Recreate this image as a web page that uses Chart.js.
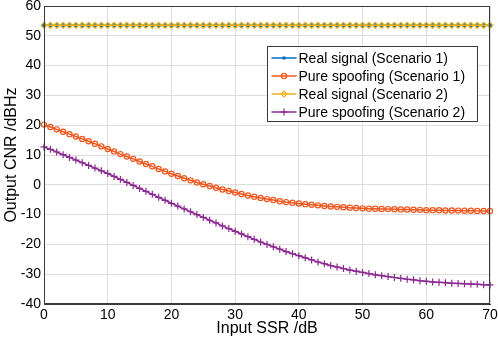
<!DOCTYPE html>
<html>
<head>
<meta charset="utf-8">
<script src="https://cdn.jsdelivr.net/npm/chart.js@4.4.1/dist/chart.umd.min.js"></script>
<style>
  html, body { margin: 0; padding: 0; background: #fff; }
  #wrap { position: relative; width: 498px; height: 341px; }
</style>
</head>
<body>
<div id="wrap"><canvas id="chart"></canvas></div>
<script>
// Input SSR, dB (one point per dB)
const ssr = [
  0, 1, 2, 3, 4, 5, 6, 7, 8, 9, 10, 11, 12, 13, 14, 15, 16, 17, 18, 19, 20,
  21, 22, 23, 24, 25, 26, 27, 28, 29, 30, 31, 32, 33, 34, 35, 36, 37, 38, 39, 40,
  41, 42, 43, 44, 45, 46, 47, 48, 49, 50, 51, 52, 53, 54, 55, 56, 57, 58, 59, 60,
  61, 62, 63, 64, 65, 66, 67, 68, 69, 70
];

// Output CNR, dBHz
const realSignal1 = [
  53.5, 53.5, 53.5, 53.5, 53.5, 53.5, 53.5, 53.5, 53.5, 53.5, 53.5, 53.5, 53.5, 53.5, 53.5, 53.5, 53.5, 53.5, 53.5, 53.5, 53.5,
  53.5, 53.5, 53.5, 53.5, 53.5, 53.5, 53.5, 53.5, 53.5, 53.5, 53.5, 53.5, 53.5, 53.5, 53.5, 53.5, 53.5, 53.5, 53.5, 53.5,
  53.5, 53.5, 53.5, 53.5, 53.5, 53.5, 53.5, 53.5, 53.5, 53.5, 53.5, 53.5, 53.5, 53.5, 53.5, 53.5, 53.5, 53.5, 53.5, 53.5,
  53.5, 53.5, 53.5, 53.5, 53.5, 53.5, 53.5, 53.5, 53.5, 53.5
];
const spoofing1 = [
  20.2, 19.4, 18.6, 17.8, 17.0, 16.2, 15.4, 14.6, 13.8, 12.9, 12.0,
  11.2, 10.3, 9.5, 8.7, 7.8, 7.0, 6.2, 5.3, 4.5, 3.7,
  2.95, 2.2, 1.5, 0.8, 0.2, -0.4, -1.0, -1.6, -2.1, -2.6,
  -3.1, -3.6, -4.0, -4.4, -4.8, -5.1, -5.5, -5.8, -6.0, -6.3,
  -6.5, -6.7, -6.9, -7.1, -7.3, -7.4, -7.55, -7.7, -7.8, -7.9,
  -8.0, -8.05, -8.1, -8.15, -8.2, -8.25, -8.3, -8.35, -8.4, -8.5,
  -8.5, -8.55, -8.6, -8.6, -8.65, -8.7, -8.7, -8.75, -8.8, -8.8
];
const realSignal2 = [
  53.5, 53.5, 53.5, 53.5, 53.5, 53.5, 53.5, 53.5, 53.5, 53.5, 53.5, 53.5, 53.5, 53.5, 53.5, 53.5, 53.5, 53.5, 53.5, 53.5, 53.5,
  53.5, 53.5, 53.5, 53.5, 53.5, 53.5, 53.5, 53.5, 53.5, 53.5, 53.5, 53.5, 53.5, 53.5, 53.5, 53.5, 53.5, 53.5, 53.5, 53.5,
  53.5, 53.5, 53.5, 53.5, 53.5, 53.5, 53.5, 53.5, 53.5, 53.5, 53.5, 53.5, 53.5, 53.5, 53.5, 53.5, 53.5, 53.5, 53.5, 53.5,
  53.5, 53.5, 53.5, 53.5, 53.5, 53.5, 53.5, 53.5, 53.5, 53.5
];
const spoofing2 = [
  12.7, 11.9, 11.0, 10.1, 9.2, 8.3, 7.4, 6.5, 5.6, 4.7, 3.8,
  2.8, 1.8, 0.8, -0.2, -1.2, -2.2, -3.2, -4.2, -5.2, -6.2,
  -7.15, -8.1, -9.05, -10.0, -10.95, -11.9, -12.8, -13.8, -14.7, -15.6,
  -16.5, -17.4, -18.3, -19.2, -20.0, -20.8, -21.6, -22.4, -23.1, -23.8,
  -24.5, -25.2, -25.9, -26.5, -27.1, -27.6, -28.1, -28.6, -29.0, -29.4,
  -29.8, -30.2, -30.5, -30.8, -31.1, -31.4, -31.7, -31.9, -32.2, -32.4,
  -32.6, -32.7, -32.85, -33.0, -33.1, -33.2, -33.3, -33.4, -33.5, -33.6
];

const seriesLabels = [
  'Real signal (Scenario 1)',
  'Pure spoofing (Scenario 1)',
  'Real signal (Scenario 2)',
  'Pure spoofing (Scenario 2)'
];

const xTicks = [0, 10, 20, 30, 40, 50, 60, 70];
const yTicks = [-40, -30, -20, -10, 0, 10, 20, 30, 40, 50, 60];

const FONT = 'Arial, "Liberation Sans", Helvetica, sans-serif';

function toPoints(ys) {
  return ys.map((y, i) => ({ x: ssr[i], y: y }));
}

// Draw a small marker like matlab does (for the legend)
function drawMarker(ctx, style, color, x, y) {
  ctx.save();
  ctx.strokeStyle = color;
  ctx.fillStyle = color;
  ctx.lineWidth = 1.2;
  ctx.beginPath();
  if (style === 'open') {
    ctx.arc(x, y, 2.6, 0, Math.PI * 2);
    ctx.stroke();
  } else if (style === 'cross') {
    ctx.moveTo(x - 3.5, y); ctx.lineTo(x + 3.5, y);
    ctx.moveTo(x, y - 3.5); ctx.lineTo(x, y + 3.5);
    ctx.stroke();
  } else if (style === 'rectRot') {
    ctx.moveTo(x, y - 3); ctx.lineTo(x + 3, y); ctx.lineTo(x, y + 3); ctx.lineTo(x - 3, y);
    ctx.closePath();
    ctx.stroke();
  } else {
    ctx.arc(x, y, 1.8, 0, Math.PI * 2);
    ctx.fill();
  }
  ctx.restore();
}

// box around plot + legend inside the axes
const boxLegend = {
  id: 'boxLegend',
  afterDraw(chart) {
    const ctx = chart.ctx;
    const a = chart.chartArea;
    ctx.save();
    ctx.strokeStyle = '#3a3a3a';
    ctx.lineWidth = 1;
    ctx.strokeRect(a.left + 0.5, a.top + 0.5, a.right - a.left - 1, a.bottom - a.top - 1);

    const lx = 267.5, ly = 46.5, lw = 210, lh = 75;
    ctx.fillStyle = '#fff';
    ctx.fillRect(lx, ly, lw, lh);
    ctx.strokeStyle = '#3a3a3a';
    ctx.strokeRect(lx, ly, lw, lh);

    ctx.font = '14px ' + FONT;
    ctx.textBaseline = 'middle';
    ctx.textAlign = 'left';
    chart.data.datasets.forEach((ds, i) => {
      const y = ly + 11.5 + i * 18;
      ctx.strokeStyle = ds.borderColor;
      ctx.lineWidth = 1.5;
      ctx.beginPath();
      ctx.moveTo(lx + 4, y);
      ctx.lineTo(lx + 29, y);
      ctx.stroke();
      drawMarker(ctx, ds.legendMarker, ds.borderColor, lx + 16.5, y);
      ctx.fillStyle = '#000';
      ctx.fillText(ds.label, lx + 31, y + 1);
    });
    ctx.restore();
  }
};

function initChart() {
  const ctx = document.getElementById('chart').getContext('2d');

  const datasets = [{
    label: seriesLabels[0],
    data: toPoints(realSignal1),
    borderColor: '#0072BD',
    backgroundColor: '#0072BD',
    pointStyle: 'circle',
    legendMarker: 'dot',
    pointRadius: 1.8,
    pointBackgroundColor: '#0072BD',
    order: 4
  }, {
    label: seriesLabels[1],
    data: toPoints(spoofing1),
    borderColor: '#F0561D',
    backgroundColor: '#F0561D',
    pointStyle: 'circle',
    legendMarker: 'open',
    pointRadius: 2.6,
    pointBackgroundColor: 'rgba(0,0,0,0)',
    order: 3
  }, {
    label: seriesLabels[2],
    data: toPoints(realSignal2),
    borderColor: '#EDB120',
    backgroundColor: '#EDB120',
    pointStyle: 'rectRot',
    legendMarker: 'rectRot',
    pointRadius: 3,
    pointBackgroundColor: 'rgba(0,0,0,0)',
    order: 2
  }, {
    label: seriesLabels[3],
    data: toPoints(spoofing2),
    borderColor: '#8B2A90',
    backgroundColor: '#8B2A90',
    pointStyle: 'cross',
    legendMarker: 'cross',
    pointRadius: 3.5,
    order: 1
  }];
  datasets.forEach(ds => {
    ds.borderWidth = 1.5;
    ds.pointBorderWidth = 1.2;
    ds.pointBorderColor = ds.borderColor;
    ds.fill = false;
    ds.tension = 0;
    ds.clip = false;
  });

  const config = {
    type: 'line',
    data: { datasets: datasets },
    options: {
      responsive: false,
      animation: false,
      events: [],
      layout: { padding: { top: 6, right: 8, left: 0, bottom: 0 } },
      plugins: {
        legend: { display: false },
        tooltip: { enabled: false }
      },
      scales: {
        x: {
          type: 'linear',
          min: xTicks[0],
          max: xTicks[xTicks.length - 1],
          afterBuildTicks: s => { s.ticks = xTicks.map(v => ({ value: v })); },
          afterFit: s => { s.height = 37; s.paddingLeft = 0; s.paddingRight = 0; },
          grid: { color: '#dedede', drawTicks: false, lineWidth: 1 },
          border: { display: true, color: '#3a3a3a' },
          ticks: { color: '#000', font: { family: FONT, size: 14 }, padding: 3, maxRotation: 0 },
          title: {
            display: true, text: 'Input SSR /dB', color: '#000',
            font: { family: FONT, size: 16 }, padding: { top: 0, bottom: 3 }
          }
        },
        y: {
          min: yTicks[0],
          max: yTicks[yTicks.length - 1],
          afterBuildTicks: s => { s.ticks = yTicks.map(v => ({ value: v })); },
          afterFit: s => { s.width = 44; s.paddingTop = 0; s.paddingBottom = 0; },
          grid: { color: '#dedede', drawTicks: false, lineWidth: 1 },
          border: { display: true, color: '#3a3a3a' },
          ticks: { color: '#000', font: { family: FONT, size: 14 }, padding: 3 },
          title: {
            display: true, text: 'Output CNR /dBHz', color: '#000',
            font: { family: FONT, size: 16 }, padding: { top: 2, bottom: 0 }
          }
        }
      }
    },
    plugins: [boxLegend]
  };

  const canvas = document.getElementById('chart');
  canvas.width = 498;
  canvas.height = 341;
  new Chart(ctx, config);
}

document.addEventListener('DOMContentLoaded', initChart);
</script>
</body>
</html>
